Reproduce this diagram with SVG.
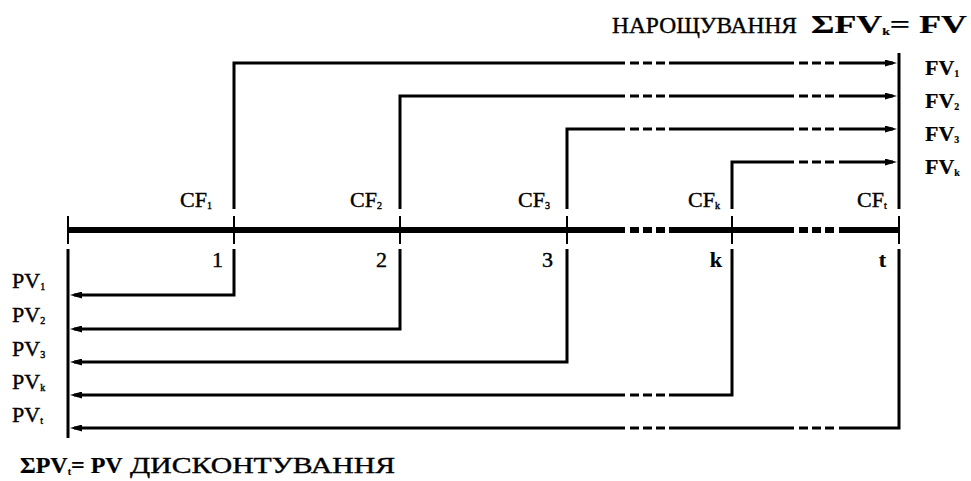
<svg xmlns="http://www.w3.org/2000/svg" width="971" height="481" viewBox="0 0 971 481">
<defs>
<style>
.ln{fill:none;stroke:#000;stroke-width:3;stroke-linejoin:miter;stroke-linecap:butt}
.tk{fill:none;stroke:#000;stroke-width:2}
.bar{fill:none;stroke:#000;stroke-width:6}
.t{font-family:"Liberation Serif","Times New Roman",serif;fill:#000;stroke:#000;stroke-width:0.4}
.lb{font-size:22px}
.bd{font-weight:bold;stroke-width:0.2}
.big{font-size:24px}
.sub{font-size:10px}
</style>
<marker id="ar" markerUnits="userSpaceOnUse" markerWidth="12" markerHeight="7" refX="8" refY="3.5" orient="auto">
<path d="M0,0 L12,3.5 L0,7 z" fill="#000"/>
</marker>
</defs>
<rect width="971" height="481" fill="#fff"/>
<g id="timeline">
<path class="bar" d="M68,230 H625 M630,230 H639 M643,230 H652 M656,230 H665 M669,230 H794 M799,230 H808 M812,230 H821 M825,230 H834 M839,230 H899"/>
<path class="tk" d="M68,216 V244 M234,216 V244 M400,216 V244 M567,216 V244 M732,216 V244 M899,216 V244"/>
</g>
<g id="connectors">
<path class="ln" marker-end="url(#ar)" d="M234,209 V63 H625 M630,63 H639 M643,63 H652 M656,63 H665 M669,63 H794 M799,63 H808 M812,63 H821 M825,63 H834 M839,63 H893"/>
<path class="ln" marker-end="url(#ar)" d="M400,209 V96 H625 M630,96 H639 M643,96 H652 M656,96 H665 M669,96 H794 M799,96 H808 M812,96 H821 M825,96 H834 M839,96 H893"/>
<path class="ln" marker-end="url(#ar)" d="M567,209 V129 H625 M630,129 H639 M643,129 H652 M656,129 H665 M669,129 H794 M799,129 H808 M812,129 H821 M825,129 H834 M839,129 H893"/>
<path class="ln" marker-end="url(#ar)" d="M732,209 V162 H794 M799,162 H808 M812,162 H821 M825,162 H834 M839,162 H893"/>
<path class="ln" d="M899,53 V209"/>
<path class="ln" marker-end="url(#ar)" d="M234,249 V295 H74"/>
<path class="ln" marker-end="url(#ar)" d="M400,249 V329 H74"/>
<path class="ln" marker-end="url(#ar)" d="M567,249 V362 H74"/>
<path class="ln" marker-end="url(#ar)" d="M732,249 V395 H669 M665,395 H656 M652,395 H643 M639,395 H630 M625,395 H74"/>
<path class="ln" marker-end="url(#ar)" d="M899,249 V428 H839 M834,428 H825 M821,428 H812 M808,428 H799 M794,428 H669 M665,428 H656 M652,428 H643 M639,428 H630 M625,428 H74"/>
<path class="ln" d="M68,249 V438"/>
</g>
<g id="cf-labels" class="t lb">
<text x="180" y="207">CF<tspan class="sub" dy="2">1</tspan></text>
<text x="350" y="207">CF<tspan class="sub" dy="2">2</tspan></text>
<text x="518" y="207">CF<tspan class="sub" dy="2">3</tspan></text>
<text x="688" y="207">CF<tspan class="sub" dy="2">k</tspan></text>
<text x="857" y="207">CF<tspan class="sub" dy="2">t</tspan></text>
</g>
<g id="period-labels" class="t lb" text-anchor="end">
<text x="223" y="267">1</text>
<text x="387" y="267">2</text>
<text x="553" y="267">3</text>
<text x="722" y="267" class="bd">k</text>
<text x="886" y="267" class="bd">t</text>
</g>
<g id="fv-labels" class="t lb bd">
<text x="925" y="75">FV<tspan class="sub" dy="2">1</tspan></text>
<text x="925" y="108">FV<tspan class="sub" dy="2">2</tspan></text>
<text x="925" y="141">FV<tspan class="sub" dy="2">3</tspan></text>
<text x="925" y="174">FV<tspan class="sub" dy="2">k</tspan></text>
</g>
<g id="pv-labels" class="t lb">
<text x="12" y="288">PV<tspan class="sub" dy="2">1</tspan></text>
<text x="12" y="322">PV<tspan class="sub" dy="2">2</tspan></text>
<text x="12" y="356">PV<tspan class="sub" dy="2">3</tspan></text>
<text x="12" y="389">PV<tspan class="sub" dy="2">k</tspan></text>
<text x="12" y="422">PV<tspan class="sub" dy="2">t</tspan></text>
</g>
<g id="title-top" class="t big">
<text x="612" y="33" textLength="185" lengthAdjust="spacingAndGlyphs">НАРОЩУВАННЯ</text>
<text x="811" y="33" class="bd" style="font-size:26px" textLength="156" lengthAdjust="spacingAndGlyphs">ΣFV<tspan class="sub" dy="2">k</tspan><tspan dy="-2">= FV</tspan></text>
</g>
<g id="title-bottom" class="t big">
<text x="20" y="473" class="bd">ΣPV<tspan class="sub" dy="2">t</tspan><tspan dy="-2">= PV</tspan></text>
<text x="130" y="473" textLength="265" lengthAdjust="spacingAndGlyphs">ДИСКОНТУВАННЯ</text>
</g>
</svg>
